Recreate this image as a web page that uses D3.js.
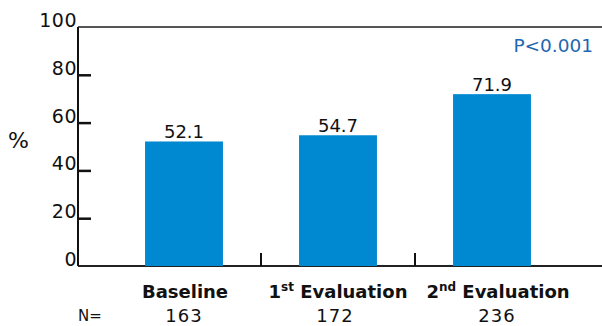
<!DOCTYPE html>
<html>
<head>
<meta charset="utf-8">
<script src="https://cdn.jsdelivr.net/npm/d3@7"></script>
<style>
  html, body { margin: 0; padding: 0; background: #fff; }
  svg { display: block; font-family: "DejaVu Sans", sans-serif; }
</style>
</head>
<body>
<svg id="chart" width="602" height="326"></svg>
<script>
// Share of patients (%) at each assessment
const categories = ["Baseline", "1st Evaluation", "2nd Evaluation"];
const labelMain = ["Baseline", "1", "2"];
const labelSup = ["", "st", "nd"];
const labelTail = ["", " Evaluation", " Evaluation"];
const values = [52.1, 54.7, 71.9];
const counts = [163, 172, 236];
const yTicks = [0, 20, 40, 60, 80, 100];
const pText = "P<0.001";

const svg = d3.select("#chart");
const W = 602;
const plotLeft = 78, plotTop = 27, plotBottom = 266, plotRight = W;

const x = d3.scaleBand()
  .domain(categories)
  .range([107, 569])
  .paddingInner(0.494)
  .paddingOuter(0.247);
const cx = c => x(c) + x.bandwidth() / 2;

const y = d3.scaleLinear().domain([0, 100]).range([plotBottom, plotTop]);

// frame: top line and baseline
svg.append("line").attr("x1", plotLeft).attr("x2", plotRight).attr("y1", plotTop).attr("y2", plotTop)
  .attr("stroke", "#555").attr("stroke-width", 2);
svg.append("line").attr("x1", plotLeft).attr("x2", plotRight).attr("y1", plotBottom).attr("y2", plotBottom)
  .attr("stroke", "#222").attr("stroke-width", 2);

// y axis with inward ticks
const yAxis = d3.axisRight(y).tickValues(yTicks.filter(t => t > 0 && t < 100))
  .tickSize(13).tickFormat("");
const ya = svg.append("g").attr("transform", `translate(${plotLeft},0)`).call(yAxis);
ya.select(".domain").attr("d", `M0,${plotTop}V${plotBottom}`).attr("stroke", "#111").attr("stroke-width", 2);
ya.selectAll(".tick line").attr("stroke", "#111").attr("stroke-width", 2.5);

svg.append("g").selectAll("text").data(yTicks).join("text")
  .attr("x", plotLeft - 1)
  .attr("y", d => y(d))
  .attr("text-anchor", "end")
  .attr("font-size", 19)
  .attr("letter-spacing", 0.5)
  .attr("fill", "#111")
  .text(d => d);

svg.append("text").attr("x", 8).attr("y", 148).attr("font-size", 22).attr("fill", "#111").text("%");

// separators between categories
const seps = categories.slice(1).map(c => x(c) - x.step() * x.paddingInner() / 2);
svg.append("g").selectAll("line").data(seps).join("line")
  .attr("x1", d => d).attr("x2", d => d)
  .attr("y1", plotBottom - 13).attr("y2", plotBottom)
  .attr("stroke", "#111").attr("stroke-width", 2);

// bars
svg.append("g").selectAll("rect").data(values).join("rect")
  .attr("x", (d, i) => x(categories[i]))
  .attr("width", x.bandwidth())
  .attr("y", d => y(d))
  .attr("height", d => plotBottom - y(d))
  .attr("fill", "#0088d0");

// value labels
svg.append("g").selectAll("text").data(values).join("text")
  .attr("x", (d, i) => cx(categories[i]))
  .attr("y", d => y(d) - 3)
  .attr("text-anchor", "middle")
  .attr("font-size", 18)
  .attr("fill", "#111")
  .text(d => d.toFixed(1));

// category labels with ordinal superscripts
const labelShift = [1, 0, 6];
const cat = svg.append("g").selectAll("text").data(categories).join("text")
  .attr("x", (d, i) => cx(d) + labelShift[i])
  .attr("y", 298)
  .attr("text-anchor", "middle")
  .attr("font-size", 18)
  .attr("font-weight", "bold")
  .attr("fill", "#111");
cat.append("tspan").text((d, i) => labelMain[i]);
cat.append("tspan").attr("font-size", 12).attr("dy", -7).text((d, i) => labelSup[i]);
cat.append("tspan").attr("dy", (d, i) => labelSup[i] ? 7 : 0).text((d, i) => labelTail[i]);

// sample sizes
svg.append("text").attr("x", 78).attr("y", 321).attr("font-size", 15).attr("fill", "#111").text("N=");
const countShift = [0, -3, 5];
svg.append("g").selectAll("text").data(counts).join("text")
  .attr("x", (d, i) => cx(categories[i]) + countShift[i])
  .attr("y", 322)
  .attr("text-anchor", "middle")
  .attr("font-size", 18)
  .attr("letter-spacing", 1)
  .attr("fill", "#111")
  .text(d => d);

// significance
svg.append("text").attr("x", 593).attr("y", 52).attr("text-anchor", "end")
  .attr("font-size", 18.5).attr("fill", "#1f68b3").text(pText);
</script>
</body>
</html>
